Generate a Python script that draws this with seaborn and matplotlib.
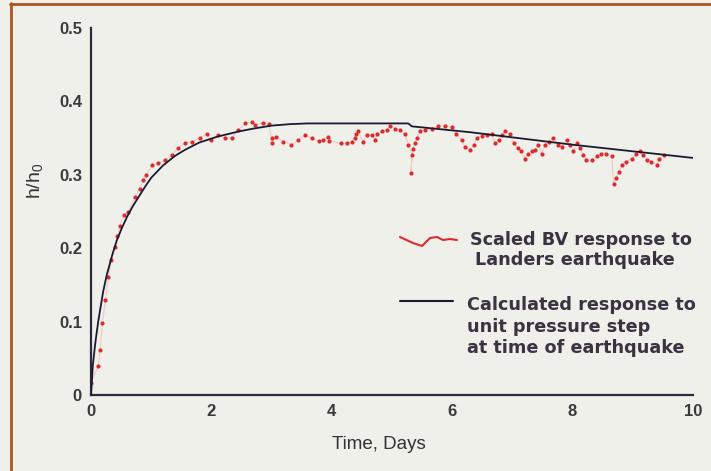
import numpy as np
import pandas as pd
import seaborn as sns
import matplotlib.pyplot as plt
from matplotlib.lines import Line2D

# calculated response to unit pressure step
calc_t = [0, 0.03, 0.07, 0.12, 0.2, 0.26, 0.35, 0.43, 0.51, 0.6, 0.7, 0.8, 0.9, 1.0,
          1.2, 1.4, 1.56, 1.8, 2.1, 2.45, 2.7, 3.0, 3.3, 3.6, 4.3, 5.27, 5.33,
          6.3, 8.0, 10.0]
calc_h = [0, 0.04, 0.07, 0.10, 0.14, 0.163, 0.19, 0.211, 0.227, 0.243, 0.258, 0.271,
          0.284, 0.296, 0.313, 0.326, 0.334, 0.344, 0.352, 0.359, 0.363, 0.367,
          0.369, 0.370, 0.370, 0.370, 0.366, 0.358, 0.341, 0.323]

# scaled BV response to Landers earthquake
bv_t = [0.0, 0.12, 0.15, 0.19, 0.24, 0.29, 0.34, 0.40, 0.44, 0.48, 0.54, 0.62, 0.73,
        0.81, 0.87, 0.92, 1.01, 1.12, 1.23, 1.34, 1.45, 1.56, 1.67, 1.81, 1.92, 2.00,
        2.11, 2.23, 2.34, 2.45, 2.56, 2.67, 2.72, 2.86, 2.95,
        3.00, 3.00, 3.08, 3.19, 3.33, 3.44, 3.55, 3.67, 3.78, 3.86, 3.93, 3.96,
        4.16, 4.25, 4.33, 4.39, 4.41, 4.44, 4.52, 4.58, 4.66, 4.72, 4.75, 4.83, 4.91,
        4.97, 5.05, 5.13, 5.22, 5.27, 5.34, 5.31, 5.35, 5.38, 5.41, 5.46, 5.55, 5.66,
        5.77, 5.88, 5.99, 6.07, 6.16, 6.21, 6.30, 6.36, 6.41, 6.49, 6.57, 6.66, 6.71,
        6.77, 6.82, 6.88, 6.96, 7.02, 7.10, 7.15, 7.21, 7.26, 7.32, 7.38, 7.43, 7.49,
        7.54, 7.60, 7.68, 7.76, 7.82, 7.90, 7.96, 8.01, 8.07, 8.12, 8.18, 8.23, 8.32,
        8.40, 8.48, 8.56, 8.65, 8.68, 8.72, 8.77, 8.82, 8.89, 8.98, 9.06, 9.12, 9.17,
        9.23, 9.31, 9.40, 9.44, 9.51]
bv_h = [0.016, 0.040, 0.061, 0.098, 0.129, 0.161, 0.184, 0.202, 0.216, 0.230, 0.245,
        0.250, 0.270, 0.281, 0.293, 0.300, 0.313, 0.316, 0.320, 0.327, 0.336, 0.343,
        0.345, 0.350, 0.356, 0.347, 0.354, 0.350, 0.350, 0.361, 0.370, 0.372, 0.368,
        0.371, 0.369,
        0.350, 0.344, 0.352, 0.345, 0.341, 0.347, 0.354, 0.350, 0.346, 0.347, 0.352,
        0.346,
        0.343, 0.343, 0.345, 0.350, 0.356, 0.359, 0.345, 0.354, 0.354, 0.348, 0.356,
        0.359, 0.361, 0.367, 0.363, 0.361, 0.356, 0.341, 0.327, 0.303, 0.335, 0.343,
        0.350, 0.359, 0.361, 0.363, 0.366, 0.367, 0.365, 0.356, 0.347, 0.338, 0.334,
        0.341, 0.350, 0.353, 0.354, 0.355, 0.343, 0.347, 0.354, 0.359, 0.355, 0.343,
        0.336, 0.332, 0.322, 0.329, 0.332, 0.334, 0.341, 0.329, 0.341, 0.345, 0.350,
        0.341, 0.338, 0.347, 0.341, 0.332, 0.343, 0.336, 0.327, 0.320, 0.320, 0.325,
        0.329, 0.329, 0.325, 0.288, 0.295, 0.304, 0.313, 0.318, 0.322, 0.329, 0.333,
        0.327, 0.320, 0.318, 0.313, 0.322, 0.327]

x_ticks = [0, 2, 4, 6, 8, 10]
y_ticks = [0, 0.1, 0.2, 0.3, 0.4, 0.5]
y_tick_labels = ["0", "0.1", "0.2", "0.3", "0.4", "0.5"]

bv_label = ["Scaled BV response to", "Landers earthquake"]
calc_label = ["Calculated response to", "unit pressure step", "at time of earthquake"]

df_calc = pd.DataFrame({"t": calc_t, "h": calc_h})
df_bv = pd.DataFrame({"t": bv_t, "h": bv_h})

bg = "#eef0e9"
ink = "#2e2838"
sns.set_theme(style="white", rc={"figure.facecolor": bg, "axes.facecolor": bg})
plt.rcParams["font.family"] = ["Liberation Sans", "DejaVu Sans"]
plt.rcParams["mathtext.default"] = "regular"

fig = plt.figure(figsize=(7.11, 4.71), dpi=100)
ax = fig.add_axes([91 / 711, 1 - 395 / 471, 602 / 711, 367 / 471])

sns.lineplot(data=df_bv, x="t", y="h", sort=False, estimator=None, ax=ax,
             color="#f49a9a", linewidth=0.8, alpha=0.45)
sns.scatterplot(data=df_bv, x="t", y="h", ax=ax, color="#dc2a2f", s=9,
                linewidth=0, zorder=3)
sns.lineplot(data=df_calc, x="t", y="h", sort=False, estimator=None, ax=ax,
             color="#1c1a33", linewidth=1.3, zorder=4)

ax.set_xlim(0, 10)
ax.set_ylim(0, 0.5)
ax.set_xticks(x_ticks)
ax.set_yticks(y_ticks)
ax.set_yticklabels(y_tick_labels)
for s in ["top", "right"]:
    ax.spines[s].set_visible(False)
for s in ["left", "bottom"]:
    ax.spines[s].set_color(ink)
    ax.spines[s].set_linewidth(1.6)
ax.tick_params(axis="x", direction="inout", length=7, width=1.2, color=ink,
               labelsize=12, labelcolor="#3a3a3a", pad=3)
ax.tick_params(axis="y", direction="inout", length=7, width=1.2, color=ink,
               labelsize=12, labelcolor="#3a3a3a", pad=3)
for lab in ax.get_xticklabels() + ax.get_yticklabels():
    lab.set_fontweight("bold")

ax.set_xlabel("Time, Days", fontsize=13.5, color="#333333")
ax.xaxis.set_label_coords(0.478, -0.112)
ax.set_ylabel("h/h$_0$", fontsize=14, color="#333333")
ax.yaxis.set_label_coords(-0.076, 0.583)

# hand drawn legend
txt_kw = dict(fontsize=12.7, fontweight="bold", color="#3b3342", va="center",
              ha="left", family="DejaVu Sans")
for i, line in enumerate(bv_label):
    fig.text([470, 475][i] / 711, 1 - [240, 260][i] / 471, line, **txt_kw)
for i, line in enumerate(calc_label):
    fig.text(467 / 711, 1 - [305, 327, 348][i] / 471, line, **txt_kw)
wave_x = np.array([400, 413, 422, 430, 437, 443, 450, 457]) / 711
wave_y = 1 - np.array([237, 243, 246, 238, 237, 240, 239, 240]) / 471
fig.add_artist(Line2D(wave_x, wave_y, color="#dc2a2f", linewidth=1.5,
                      transform=fig.transFigure))
fig.add_artist(Line2D([400 / 711, 453 / 711], [1 - 301 / 471] * 2, color="#1c1a33",
                      linewidth=1.5, transform=fig.transFigure))

# orange frame on the left and top
fig.add_artist(Line2D([11 / 711, 11 / 711], [0, 1 - 3 / 471], color="#b3521f",
                      linewidth=2, transform=fig.transFigure))
fig.add_artist(Line2D([10 / 711, 1], [1 - 3.5 / 471] * 2, color="#b3521f",
                      linewidth=2, transform=fig.transFigure))

plt.savefig("out.png", dpi=100, facecolor=bg)
